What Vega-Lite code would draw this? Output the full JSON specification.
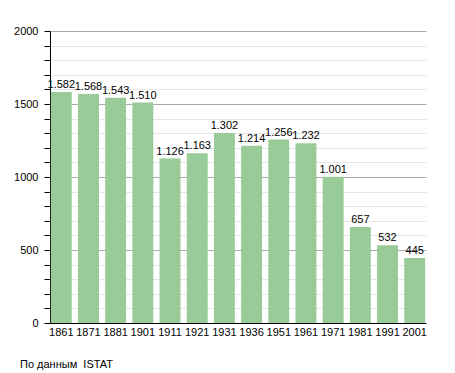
{
  "$schema": "https://vega.github.io/schema/vega-lite/v6.json",
  "autosize": {"type": "none"},
  "padding": {"left": 50, "top": 31, "right": 29, "bottom": 50},
  "width": 376,
  "height": 292,
  "background": "white",
  "config": {
    "locale": {"number": {"decimal": ",", "thousands": ".", "grouping": [3], "currency": ["", ""]}},
    "font": "Liberation Sans",
    "view": {"stroke": null}
  },
  "title": {
    "text": "По данным\u00a0 ISTAT",
    "orient": "bottom",
    "anchor": "start",
    "frame": "group",
    "dx": -30,
    "offset": 22,
    "fontSize": 11,
    "fontWeight": "normal",
    "color": "#000"
  },
  "data": {
    "values": [
      {"year": "1861", "pop": 1582},
      {"year": "1871", "pop": 1568},
      {"year": "1881", "pop": 1543},
      {"year": "1901", "pop": 1510},
      {"year": "1911", "pop": 1126},
      {"year": "1921", "pop": 1163},
      {"year": "1931", "pop": 1302},
      {"year": "1936", "pop": 1214},
      {"year": "1951", "pop": 1256},
      {"year": "1961", "pop": 1232},
      {"year": "1971", "pop": 1001},
      {"year": "1981", "pop": 657},
      {"year": "1991", "pop": 532},
      {"year": "2001", "pop": 445}
    ]
  },
  "encoding": {
    "x": {
      "field": "year", "type": "ordinal", "sort": null,
      "scale": {"paddingInner": 0.23, "paddingOuter": 0.03},
      "axis": {
        "title": null, "labelAngle": 0, "ticks": false, "domainColor": "#000",
        "labelFontSize": 11, "labelColor": "#000", "labelPadding": 3
      }
    },
    "y": {
      "field": "pop", "type": "quantitative",
      "scale": {"domain": [0, 2000], "nice": false},
      "axis": {
        "title": null,
        "values": [0,100,200,300,400,500,600,700,800,900,1000,1100,1200,1300,1400,1500,1600,1700,1800,1900,2000],
        "format": "d",
        "labelExpr": "datum.value % 500 === 0 ? datum.label : ''",
        "gridColor": {"condition": {"test": "datum.value % 500 === 0", "value": "#aaaaaa"}, "value": "#e6e6e6"},
        "domainColor": "#000",
        "tickColor": "#000",
        "tickSize": 6,
        "labelPadding": 6,
        "labelFontSize": 11,
        "labelColor": "#000"
      }
    }
  },
  "layer": [
    {"mark": {"type": "bar", "color": "#98cb98"}},
    {
      "mark": {"type": "text", "baseline": "alphabetic", "dy": -4, "fontSize": 11, "color": "#000"},
      "encoding": {"text": {"field": "pop", "type": "quantitative", "format": ",d"}}
    }
  ]
}
